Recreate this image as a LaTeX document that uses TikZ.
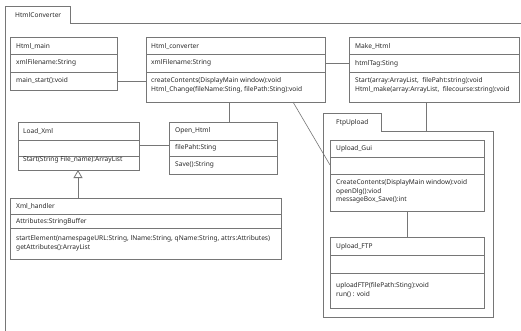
\documentclass[tikz,border=0pt]{standalone}
\usepackage{fontspec}
\setmainfont{Noto Sans}
\usetikzlibrary{arrows.meta,fit}
\definecolor{lncol}{RGB}{118,118,118}
\definecolor{txcol}{RGB}{40,40,40}
\tikzset{
  ln/.style={draw=lncol,line width=0.8pt},
  clsbox/.style={ln,rectangle,inner sep=0pt,outer sep=0pt,fill=white},
  txt/.style={anchor=west,inner sep=0pt,text=txcol,font=\fontsize{6.6}{8.5}\selectfont},
  mtxt/.style={txt,align=left,anchor=north west},
}
\newcommand\umlcls[7]{%
  \node[clsbox,fit={(#2,#3) (#4,#5)}] (#1) {};
  \draw[ln] (#1.west |- 0,#6) -- (#1.east |- 0,#6);
  \draw[ln] (#1.west |- 0,#7) -- (#1.east |- 0,#7);
}
\begin{document}
\begin{tikzpicture}[x=1pt,y=-1pt]
\useasboundingbox[fill=white] (0,0) rectangle (521,330);
% outer package
\draw[ln] (5,331) -- (5,6) -- (70,6) -- (70,23) -- (522,23);
\node[txt] (pkg1) at (15,15.5) {HtmlConverter};
% inner package
\draw[ln] (323,317) -- (323,113) -- (381,113) -- (381,131) -- (493,131) -- (493,317) -- cycle;
\node[txt] (pkg2) at (336,122.5) {FtpUpload};

% classes
\umlcls{hmain}{10}{37}{117}{90}{54}{72}
\node[txt] (hmainT) at (16,46) {Html\_main};
\node[txt] (hmainA) at (16,63) {xmlFilename:String};
\node[txt] (hmainM) at (16,81) {main\_start():void};

\umlcls{hconv}{146}{37}{325}{102}{54}{72}
\node[txt] (hconvT) at (151,46) {Html\_converter};
\node[txt] (hconvA) at (151,63) {xmlFilename:String};
\node[mtxt] (hconvM) at (151,77.5) {createContents(DisplayMain window):void\\Html\_Change(fileName:Sting, filePath:Sting):void};

\umlcls{mkhtml}{349}{37}{519}{102}{54}{72}
\node[txt] (mkhtmlT) at (355,46) {Make\_Html};
\node[txt] (mkhtmlA) at (355,63.5) {htmlTag:Sting};
\node[mtxt] (mkhtmlM) at (355,77.5) {Start(array:ArrayList,\ \ filePaht:string):void\\Html\_make(array:ArrayList,\ \ filecourse:string):void};

\umlcls{loadxml}{18}{122}{139}{170}{140}{156}
\node[txt] (loadxmlT) at (23,131) {Load\_Xml};
\node[txt] (loadxmlM) at (23,160) {Start(String File\_name):ArrayList};

\umlcls{openhtml}{169}{122}{277}{174}{140}{156}
\node[txt] (openhtmlT) at (175,131) {Open\_Html};
\node[txt] (openhtmlA) at (175,147.5) {filePaht:Sting};
\node[txt] (openhtmlM) at (175,165) {Save():String};

\umlcls{xmlh}{10}{198}{281}{259}{214}{228}
\node[txt] (xmlhT) at (16,206) {Xml\_handler};
\node[txt] (xmlhA) at (16,221.5) {Attributes:StringBuffer};
\node[mtxt] (xmlhM) at (16,235.5) {startElement(namespageURL:String, lName:String, qName:String, attrs:Attributes)\\getAttributes():ArrayList};

\umlcls{ugui}{330}{140}{484}{211}{157}{174}
\node[txt] (uguiT) at (336,148.5) {Upload\_Gui};
\node[mtxt] (uguiM) at (336,179.5) {CreateContents(DisplayMain window):void\\openDlg():viod\\messageBox\_Save():int};

\umlcls{uftp}{330}{237}{484}{308}{255}{273}
\node[txt] (uftpT) at (336,246.5) {Upload\_FTP};
\node[mtxt] (uftpM) at (336,282.5) {uploadFTP(filePath:Sting):void\\run() : void};

% connectors
\draw[ln] (hmain.east |- 0,81) -- (hconv.west |- 0,81);
\draw[ln] (hconv.east |- 0,63) -- (mkhtml.west |- 0,63);
\draw[ln] (hconv.south -| 229,0) -- (openhtml.north -| 229,0);
\draw[ln] (loadxml.east |- 0,145) -- (openhtml.west |- 0,145);
\draw[ln] (mkhtml.south -| 426,0) -- (426,131);
\draw[ln] (ugui.south -| 407,0) -- (uftp.north -| 407,0);
\draw[lncol,line width=0.6pt] (hconv.south -| 293,0) -- (ugui.west |- 0,165);
\draw[ln,-{Triangle[open,width=9pt,length=8pt]}] (xmlh.north -| 78,0) -- (loadxml.south -| 78,0);
\end{tikzpicture}
\end{document}
